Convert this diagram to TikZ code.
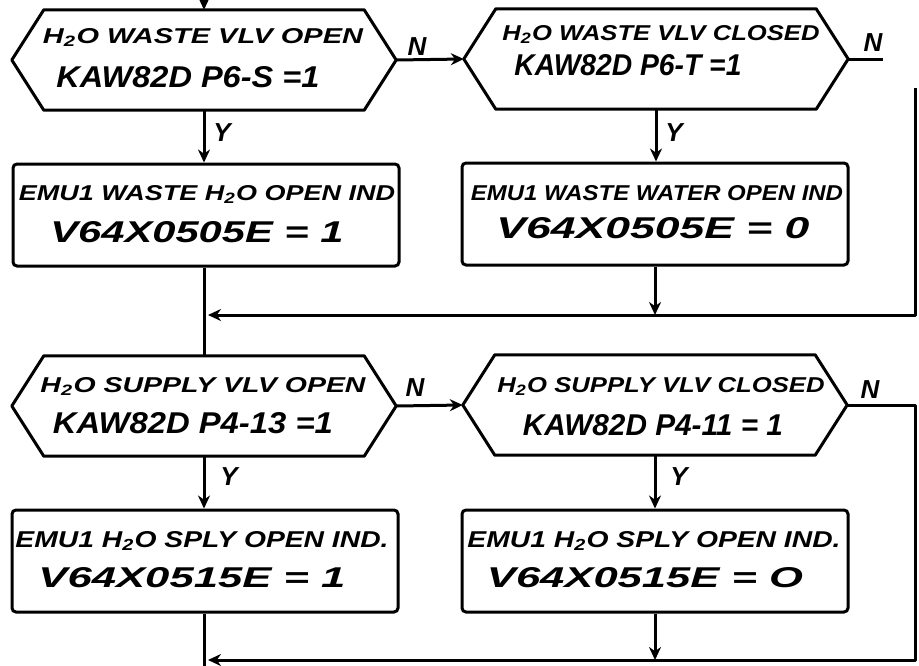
\documentclass[tikz,border=0pt]{standalone}
\usepackage{fontspec}
\usepackage{graphicx}
\setmainfont{Liberation Sans}
\usetikzlibrary{arrows.meta}
\newcommand\handtxt[3]{\resizebox{#1pt}{#2pt}{\bfseries\itshape #3}}
\begin{document}
\begin{tikzpicture}[x=1pt,y=-1pt,
  shp/.style={draw=none, minimum width=384pt, minimum height=100pt, inner sep=0pt},
  bx/.style={draw, line width=3pt, rounded corners=4pt, minimum width=386pt, minimum height=102pt, inner sep=0pt},
  ln/.style={line width=3pt, line join=round},
  arr/.style={ln, -{Stealth[length=13pt,width=12pt]}},
  lbl/.style={font=\fontsize{26}{26}\selectfont\bfseries\itshape, inner sep=0pt},
  txt/.style={inner sep=0pt, anchor=base}]
\useasboundingbox (0,0) rectangle (919,665);
% decisions (hexagons)
\node[shp] (h1) at (204,60) {};
\node[shp] (h2) at (656,59) {};
\node[shp] (h3) at (204,406) {};
\node[shp] (h4) at (655,405) {};
\foreach \n in {h1,h2,h3,h4}
  \draw[ln] (\n.west) -- ([xshift=32pt]\n.north west) -- ([xshift=-32pt]\n.north east)
     -- (\n.east) -- ([xshift=-32pt]\n.south east) -- ([xshift=32pt]\n.south west) -- cycle;
% process boxes
\node[bx] (b1) at (206,215) {};
\node[bx] (b2) at (655,214) {};
\node[bx] (b3) at (205,561) {};
\node[bx] (b4) at (655,561) {};
% texts
\node[txt] (h1a) at (203,43.5) {\handtxt{320}{15}{H\textsubscript{2}O WASTE VLV OPEN}};
\node[txt] (h1b) at (188,87.5) {\handtxt{263}{21}{KAW82D P6-S =1}};
\node[txt] (h2a) at (661,40.5) {\handtxt{317}{15}{H\textsubscript{2}O WASTE VLV CLOSED}};
\node[txt] (h2b) at (628,75.5) {\handtxt{227}{21}{KAW82D P6-T =1}};
\node[txt] (b1a) at (207,200.5) {\handtxt{376}{15}{EMU1 WASTE H\textsubscript{2}O OPEN IND}};
\node[txt] (b1b) at (197,242.5) {\handtxt{293}{21}{V64X0505E = 1}};
\node[txt] (b2a) at (657,200.5) {\handtxt{372}{15}{EMU1 WASTE WATER OPEN IND}};
\node[txt] (b2b) at (653,238.5) {\handtxt{313}{21}{V64X0505E = 0}};
\node[txt] (h3a) at (203,392.5) {\handtxt{325}{15}{H\textsubscript{2}O SUPPLY VLV OPEN}};
\node[txt] (h3b) at (193,433.5) {\handtxt{280}{21}{KAW82D P4-13 =1}};
\node[txt] (h4a) at (661,392.5) {\handtxt{327}{15}{H\textsubscript{2}O SUPPLY VLV CLOSED}};
\node[txt] (h4b) at (653,435.5) {\handtxt{260}{21}{KAW82D P4-11 = 1}};
\node[txt] (b3a) at (202,547.5) {\handtxt{373}{16}{EMU1 H\textsubscript{2}O SPLY OPEN IND.}};
\node[txt] (b3b) at (192,587.5) {\handtxt{307}{20}{V64X0515E = 1}};
\node[txt] (b4a) at (654,547.5) {\handtxt{373}{16}{EMU1 H\textsubscript{2}O SPLY OPEN IND.}};
\node[txt] (b4b) at (645,587.5) {\handtxt{316}{20}{V64X0515E = O}};
% Y / N labels
\node[lbl] (n1) at (417,47) {N};
\node[lbl] (y1) at (222,133) {Y};
\node[lbl] (n2) at (873,43) {N};
\node[lbl] (y2) at (674,133) {Y};
\node[lbl] (n3) at (415,388) {N};
\node[lbl] (y3) at (229,477) {Y};
\node[lbl] (n4) at (870,390) {N};
\node[lbl] (y4) at (679,477) {Y};
% connectors
\coordinate (top) at (204,-4);
\coordinate (e1) at (883,59);
\coordinate (r1) at (915,88);
\coordinate (r2) at (915,315);
\coordinate (j1) at (208,315);
\coordinate (m1) at (655,315);
\coordinate (r4) at (915,660);
\coordinate (j2) at (208,660);
\coordinate (m2) at (655,660);
\coordinate (bot) at (204,667);
\draw[arr] (top) -- (h1.north);
\draw[arr] (h1.east) -- (h2.west);
\draw[arr] (h1.south) -- (h1.south |- b1.north);
\draw[arr] (h2.south) -- (h2.south |- b2.north);
\draw[ln] (h2.east) -- (e1);
\draw[arr] (r1) -- (r2) -- (j1);
\draw[arr] (b2.south) -- (m1);
\draw[ln] (h3.north |- b1.south) -- (h3.north);
\draw[arr] (h3.east) -- (h4.west);
\draw[arr] (h3.south) -- (h3.south |- b3.north);
\draw[arr] (h4.south) -- (h4.south |- b4.north);
\draw[arr] (h4.east) -| (r4) -- (j2);
\draw[arr] (b4.south) -- (m2);
\draw[ln] (bot |- b3.south) -- (bot);
\end{tikzpicture}
\end{document}
